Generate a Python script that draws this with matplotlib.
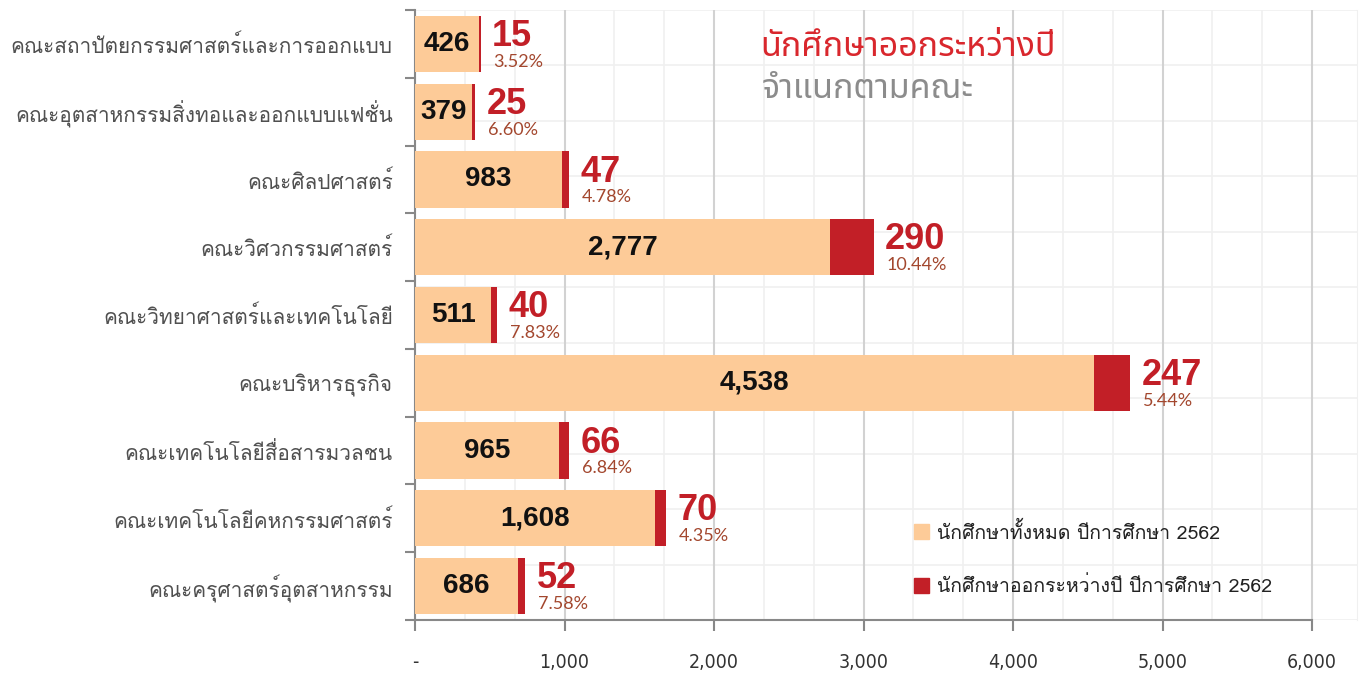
import numpy as np
import matplotlib
matplotlib.use('Agg')
import matplotlib.pyplot as plt
from matplotlib import font_manager
from matplotlib.patches import Patch
from matplotlib.ticker import MultipleLocator, FuncFormatter

faculties = ['คณะสถาปัตยกรรมศาสตร์และการออกแบบ',
             'คณะอุตสาหกรรมสิ่งทอและออกแบบแฟชั่น',
             'คณะศิลปศาสตร์',
             'คณะวิศวกรรมศาสตร์',
             'คณะวิทยาศาสตร์และเทคโนโลยี',
             'คณะบริหารธุรกิจ',
             'คณะเทคโนโลยีสื่อสารมวลชน',
             'คณะเทคโนโลยีคหกรรมศาสตร์',
             'คณะครุศาสตร์อุตสาหกรรม']
total = [426, 379, 983, 2777, 511, 4538, 965, 1608, 686]
dropout = [15, 25, 47, 290, 40, 247, 66, 70, 52]
x_ticks = [0, 1000, 2000, 3000, 4000, 5000, 6000]
legend_labels = ['นักศึกษาทั้งหมด ปีการศึกษา 2562', 'นักศึกษาออกระหว่างปี ปีการศึกษา 2562']
title1 = 'นักศึกษาออกระหว่างปี'
title2 = 'จำแนกตามคณะ'

ORANGE = '#FDCB98'
RED = '#C21F27'


def thai_fonts():
    # names of installed fonts that cover Thai
    try:
        from fontTools.ttLib import TTFont
    except ImportError:
        return []
    names = []
    seen = set()
    for f in font_manager.fontManager.ttflist:
        if f.fname in seen:
            continue
        seen.add(f.fname)
        try:
            cmap = TTFont(f.fname, fontNumber=0, lazy=True).getBestCmap()
        except Exception:
            continue
        if cmap and 0x0E01 in cmap and 0x0E32 in cmap and f.name not in names:
            names.append(f.name)
    return names


th = thai_fonts()
label_font = th[0] if th else 'DejaVu Sans'
title_font = 'Noto Sans Thai' if 'Noto Sans Thai' in th else label_font
label_fam = [label_font, 'DejaVu Sans']
title_fam = [title_font, 'DejaVu Sans']
num_fam = ['Liberation Sans', 'DejaVu Sans']
thin_fam = ['Lato', 'DejaVu Sans']

fig = plt.figure(figsize=(13.65, 6.74), dpi=100)
ax = fig.add_axes([415 / 1365, 1 - 620 / 674, (1357 - 415) / 1365, 610 / 674])

y = np.arange(len(faculties))
ax.barh(y, total, height=0.83, color=ORANGE, zorder=3)
ax.barh(y, dropout, left=total, height=0.83, color=RED, zorder=3)

for i in range(len(faculties)):
    ax.text(total[i] / 2, y[i], f'{total[i]:,}', ha='center', va='center',
            fontsize=20, fontweight='bold', family=num_fam, color='#111111', zorder=4)
    end = total[i] + dropout[i]
    ax.annotate(f'{dropout[i]}', (end, y[i]), xytext=(8, -1.5), textcoords='offset points',
                ha='left', va='baseline', fontsize=26, fontweight='bold', family=num_fam,
                color=RED, zorder=4)
    ax.annotate(f'{dropout[i] / total[i] * 100:.2f}%', (end, y[i]), xytext=(9, -16.5),
                textcoords='offset points', ha='left', va='baseline', fontsize=13,
                family=thin_fam, color='#A3472E', zorder=4)

ax.set_xlim(0, 6300)
ax.set_ylim(len(faculties) - 0.5, -0.5)

# grid
ax.set_xticks(x_ticks)
ax.xaxis.set_minor_locator(MultipleLocator(1000 / 3))
ax.grid(axis='x', which='major', color='#d2d2d2', lw=1.5, zorder=1)
ax.grid(axis='x', which='minor', color='#f0f0f0', lw=1.2, zorder=0)
for f in np.linspace(0, 1, 12):
    ax.axhline(len(faculties) - 0.5 - f * len(faculties), color='#f0f0f0', lw=1.2, zorder=0)

ax.xaxis.set_major_formatter(FuncFormatter(lambda v, p: '-' if v == 0 else f'{int(v):,}'))
ax.tick_params(axis='x', which='major', length=8, width=1.5, color='#888888', pad=16,
               labelsize=14, labelcolor='#333333', direction='out')
ax.tick_params(axis='x', which='minor', length=0)
for lab in ax.get_xticklabels():
    lab.set_family('DejaVu Sans')
    lab.set_stretch('condensed')

ax.set_yticks(y)
ax.set_yticklabels(faculties, family=label_fam, fontsize=15, color='#505050')
ax.set_yticks(np.arange(len(faculties) + 1) - 0.5, minor=True)
ax.tick_params(axis='y', which='major', length=0, pad=16)
ax.tick_params(axis='y', which='minor', length=7, width=1.5, color='#888888')

ax.spines['top'].set_visible(False)
ax.spines['right'].set_color('#f0f0f0')
ax.spines['left'].set_color('#888888')
ax.spines['left'].set_linewidth(1.5)
ax.spines['bottom'].set_color('#888888')
ax.spines['bottom'].set_linewidth(1.5)
ax.spines['bottom'].set_bounds(0, 6000)

fig.text(760 / 1365, 1 - 47 / 674, title1, ha='left', va='center', fontsize=24.5,
         color='#D9272D', family=title_fam, fontweight='light')
fig.text(762 / 1365, 1 - 89 / 674, title2, ha='left', va='center', fontsize=24.5,
         color='#8C8C8C', family=title_fam, fontweight='light')

handles = [Patch(color=ORANGE), Patch(color=RED)]
leg = fig.legend(handles, legend_labels, loc='upper left',
                 bbox_to_anchor=(896 / 1365, 1 - 504 / 674), frameon=False,
                 prop={'family': label_fam, 'size': 14}, handlelength=0.8, handleheight=0.8,
                 handletextpad=0.4, labelspacing=1.75)
for t in leg.get_texts():
    t.set_color('#222222')

fig.savefig('out.png', dpi=100)
